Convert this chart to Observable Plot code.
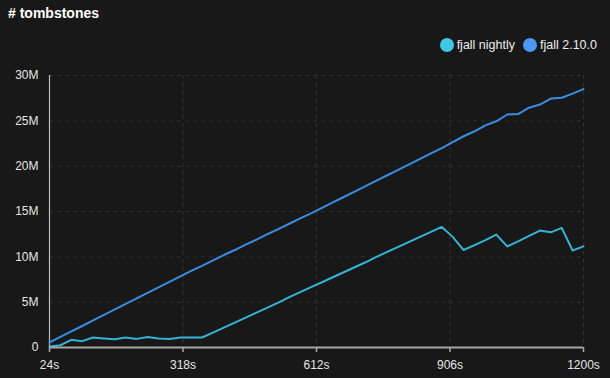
<!DOCTYPE html>
<html>
<head>
<meta charset="utf-8">
<script src="https://cdn.jsdelivr.net/npm/d3@7"></script>
<script src="https://cdn.jsdelivr.net/npm/@observablehq/plot@0.6"></script>
<style>
  html, body { margin:0; padding:0; background:#181818; }
  body { width:610px; height:378px; overflow:hidden; font-family:"Liberation Sans", Arial, sans-serif; position:relative; }
  #title { position:absolute; left:8px; top:5px; color:#fff; font-weight:bold; font-size:14px; }
  #legend { position:absolute; right:13px; top:38px; display:flex; align-items:center; color:#eee; font-size:12.5px; }
  .item { display:flex; align-items:center; margin-left:8px; }
  .dot { width:14px; height:14px; border-radius:50%; margin-right:3px; }
  #chart { position:absolute; left:0; top:60px; }
</style>
</head>
<body>
<div id="title"># tombstones</div>
<div id="legend"></div>
<div id="chart"></div>
<script>
const seconds = [24,48,72,96,120,144,168,192,216,240,264,288,312,336,360,384,408,432,456,480,504,528,552,576,600,624,648,672,696,720,744,768,792,816,840,864,888,912,936,960,984,1008,1032,1056,1080,1104,1128,1152,1176,1200];
const nightly = [0.1,0.25,0.85,0.7,1.1,1.0,0.9,1.1,0.95,1.15,1.0,0.95,1.1,1.1,1.1,1.65,2.2,2.75,3.3,3.85,4.4,4.95,5.55,6.1,6.65,7.2,7.75,8.3,8.85,9.4,10.0,10.55,11.1,11.65,12.2,12.75,13.3,12.2,10.75,11.3,11.85,12.45,11.15,11.7,12.3,12.9,12.7,13.2,10.7,11.15];
const stable = [0.55,1.16,1.77,2.37,2.98,3.59,4.2,4.81,5.41,6.02,6.63,7.24,7.85,8.45,9.0,9.6,10.2,10.75,11.35,11.9,12.5,13.05,13.65,14.25,14.8,15.4,16.0,16.6,17.2,17.8,18.4,19.0,19.6,20.2,20.8,21.4,22.0,22.65,23.3,23.85,24.5,24.95,25.7,25.75,26.45,26.8,27.45,27.55,28.0,28.5];
const seriesNames = ["fjall nightly", "fjall 2.10.0"];
const seriesColors = ["#35b3d6", "#3a8ce4"];
const legendColors = ["#41c6e6", "#4a98f2"];
const xTicks = [24,318,612,906,1200];
const yTicks = [0,5,10,15,20,25,30];

const data = [];
seconds.forEach((s,i) => {
  data.push({t:s, v:nightly[i], s:seriesNames[0]});
  data.push({t:s, v:stable[i], s:seriesNames[1]});
});

const legend = document.getElementById("legend");
seriesNames.forEach((n,i) => {
  const it = document.createElement("div"); it.className = "item";
  const d = document.createElement("div"); d.className = "dot"; d.style.background = legendColors[i];
  const t = document.createElement("span"); t.textContent = n;
  it.appendChild(d); it.appendChild(t); legend.appendChild(it);
});

const chart = Plot.plot({
  width: 610, height: 318,
  marginTop: 15, marginBottom: 31, marginLeft: 49, marginRight: 27,
  style: {background: "transparent", color: "#e6e6e6", fontSize: "12px", fontFamily: "'Liberation Sans', Arial, sans-serif"},
  x: {domain: [24, 1200], label: null},
  y: {domain: [0, 30], label: null},
  color: {domain: seriesNames, range: seriesColors},
  marks: [
    Plot.gridX(xTicks.slice(1), {stroke: "#313131", strokeOpacity: 1, strokeDasharray: "4,4"}),
    Plot.gridY(yTicks.slice(1), {stroke: "#2f2f2f", strokeOpacity: 1, strokeDasharray: "4,4"}),
    Plot.ruleX([24], {stroke: "#bdbdbd", strokeWidth: 1.2}),
    Plot.axisY({ticks: yTicks, tickSize: 0, tickPadding: 11, tickFormat: d => d === 0 ? "0" : d + "M", label: null, fontSize: 12}),
    Plot.axisX({ticks: xTicks, tickSize: 5, tickPadding: 8, stroke: "#aaa", strokeWidth: 1.5, tickFormat: d => d + "s", label: null, fontSize: 12}),
    Plot.line(data, {x: "t", y: "v", z: "s", stroke: "s", strokeWidth: 2}),
    Plot.ruleY([0], {stroke: "#a8a8a8", strokeWidth: 2})
  ]
});
document.getElementById("chart").appendChild(chart);
</script>
</body>
</html>
